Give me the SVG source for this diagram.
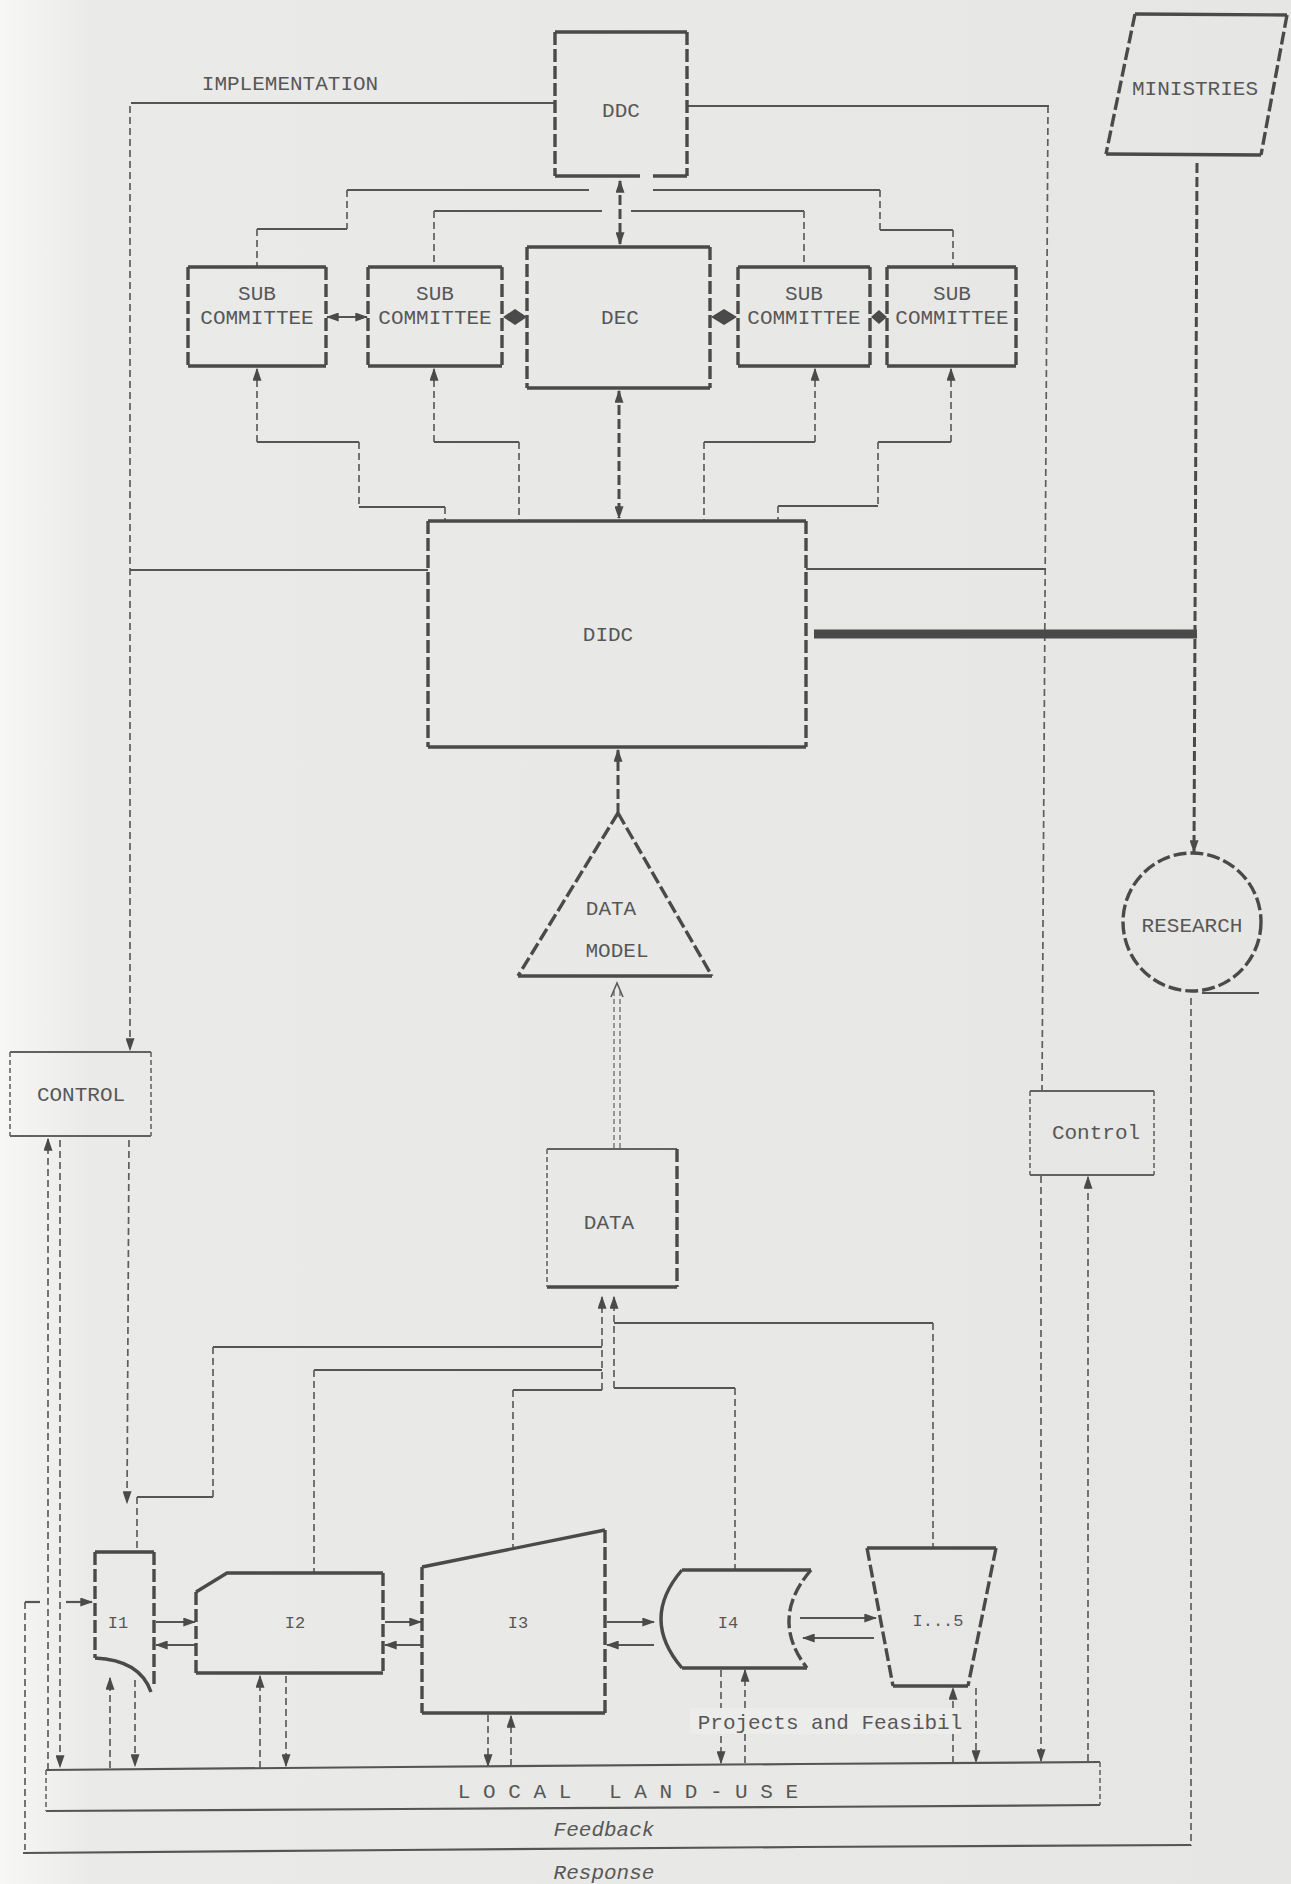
<svg xmlns="http://www.w3.org/2000/svg" width="1291" height="1884" viewBox="0 0 1291 1884">
<defs>
<linearGradient id="bg" x1="0" y1="0" x2="1" y2="0">
<stop offset="0" stop-color="#f7f7f6"/>
<stop offset="0.07" stop-color="#eaeae8"/>
<stop offset="1" stop-color="#e6e6e4"/>
</linearGradient>
<marker id="a" viewBox="0 0 10 10" refX="9" refY="5" markerWidth="13" markerHeight="9" markerUnits="userSpaceOnUse" orient="auto-start-reverse" preserveAspectRatio="none"><path d="M0,0 L10,5 L0,10 z" fill="#4a4a4a"/></marker>
<style>
.h{stroke:#555;stroke-width:2.2;fill:none}
.v{stroke:#5e5e5e;stroke-width:1.7;stroke-dasharray:7 4;fill:none}
.bh{stroke:#4a4a4a;stroke-width:3.4;fill:none}
.bv{stroke:#4a4a4a;stroke-width:3.4;stroke-dasharray:13 4;fill:none}
.th{stroke:#626262;stroke-width:1.9;fill:none}
.tv{stroke:#666;stroke-width:1.6;stroke-dasharray:5 3;fill:none}
.hv{stroke:#4a4a4a;stroke-width:3;stroke-dasharray:10 4;fill:none}
.t{font-family:"Liberation Mono","DejaVu Sans Mono",monospace;fill:#575757;font-size:21px;text-anchor:middle;white-space:pre}
.s{font-size:17px}
</style>
</defs>
<rect x="0" y="0" width="1291" height="1884" fill="url(#bg)"/>

<g id="connectors">
<line class="h" x1="131" y1="103" x2="555" y2="103"/>
<line class="v" x1="130" y1="106" x2="130" y2="1050" marker-end="url(#a)"/>
<line class="h" x1="130" y1="570" x2="428" y2="570"/>
<line class="h" x1="687" y1="106" x2="1049" y2="106"/>
<line class="v" x1="1048" y1="106" x2="1042" y2="1091"/>
<line class="h" x1="806" y1="569" x2="1046" y2="569"/>
<line x1="814" y1="634" x2="1197" y2="634" stroke="#4a4a4a" stroke-width="9"/>
<line class="hv" x1="1197" y1="163" x2="1194" y2="852" marker-end="url(#a)"/>
<line class="h" x1="1202" y1="993" x2="1259" y2="993"/>
<line class="v" x1="1191" y1="998" x2="1191" y2="1846"/>
<path class="h" d="M589,190 H347 M347,229 H257 M434,211 H602 M653,190 H880 M880,230 H953 M631,211 H804"/>
<path class="v" d="M347,190 V229 M257,229 V267 M434,211 V267 M880,190 V230 M953,230 V267 M804,211 V267"/>
<line class="hv" x1="620" y1="181" x2="620" y2="244" marker-start="url(#a)" marker-end="url(#a)"/>
<line class="h" x1="327" y1="317" x2="367" y2="317" marker-start="url(#a)" marker-end="url(#a)"/>
<path d="M503,317 L515,309 L527,317 L515,325 Z" fill="#4a4a4a"/>
<path d="M711,317 L724,309 L737,317 L724,325 Z" fill="#4a4a4a"/>
<path d="M871,317 L879,310 L887,317 L879,324 Z" fill="#4a4a4a"/>
<line class="v" x1="257" y1="442" x2="257" y2="369" marker-end="url(#a)"/>
<line class="v" x1="434" y1="442" x2="434" y2="369" marker-end="url(#a)"/>
<line class="v" x1="815" y1="442" x2="815" y2="369" marker-end="url(#a)"/>
<line class="v" x1="951" y1="442" x2="951" y2="369" marker-end="url(#a)"/>
<path class="h" d="M257,442 H359 M359,507 H445 M434,442 H519 M704,442 H815 M878,442 H951 M778,506 H878"/>
<path class="v" d="M359,442 V507 M445,507 V521 M519,442 V521 M704,442 V521 M878,442 V506 M778,506 V521"/>
<line class="hv" x1="619" y1="391" x2="619" y2="518" marker-start="url(#a)" marker-end="url(#a)"/>
<line class="hv" x1="618" y1="813" x2="618" y2="750" marker-end="url(#a)"/>
<path d="M614,1148 V990 M620,1148 V990" stroke="#6a6a6a" stroke-width="1.3" stroke-dasharray="5 3" fill="none"/>
<polyline points="611,997 617,983 623,997" fill="none" stroke="#5a5a5a" stroke-width="1.6"/>
<line class="v" x1="602" y1="1390" x2="602" y2="1297" marker-end="url(#a)"/>
<line class="v" x1="614" y1="1388" x2="614" y2="1297" marker-end="url(#a)"/>
<path class="h" d="M213,1347 H602 M137,1497 H213 M314,1370 H602 M513,1390 H602 M614,1323 H933 M614,1388 H735"/>
<path class="v" d="M213,1347 V1497 M137,1497 V1552 M314,1370 V1573 M513,1390 V1549 M933,1323 V1547 M735,1388 V1570"/>
<line class="v" x1="48" y1="1770" x2="48" y2="1139" marker-end="url(#a)"/>
<line class="v" x1="60" y1="1140" x2="60" y2="1767" marker-end="url(#a)"/>
<line class="v" x1="129" y1="1140" x2="127" y2="1503" marker-end="url(#a)"/>
<path class="v" d="M25,1602 V1850"/>
<line class="h" x1="25" y1="1602" x2="40" y2="1602"/>
<line class="h" x1="66" y1="1602" x2="92" y2="1602" marker-end="url(#a)"/>
<path d="M23,1853 L400,1850 L800,1847 L1191,1845" stroke="#555" stroke-width="2.2" fill="none"/>
<line class="h" x1="156" y1="1622" x2="195" y2="1622" marker-end="url(#a)"/>
<line class="h" x1="196" y1="1645" x2="156" y2="1645" marker-end="url(#a)"/>
<line class="h" x1="385" y1="1622" x2="421" y2="1622" marker-end="url(#a)"/>
<line class="h" x1="421" y1="1645" x2="385" y2="1645" marker-end="url(#a)"/>
<line class="h" x1="607" y1="1622" x2="654" y2="1622" marker-end="url(#a)"/>
<line class="h" x1="654" y1="1645" x2="607" y2="1645" marker-end="url(#a)"/>
<line class="h" x1="800" y1="1618" x2="876" y2="1618" marker-end="url(#a)"/>
<line class="h" x1="874" y1="1638" x2="803" y2="1638" marker-end="url(#a)"/>
<line class="v" x1="110" y1="1768" x2="110" y2="1678" marker-end="url(#a)"/>
<line class="v" x1="135" y1="1680" x2="135" y2="1766" marker-end="url(#a)"/>
<line class="v" x1="260" y1="1768" x2="260" y2="1676" marker-end="url(#a)"/>
<line class="v" x1="286" y1="1676" x2="286" y2="1766" marker-end="url(#a)"/>
<line class="v" x1="488" y1="1715" x2="488" y2="1766" marker-end="url(#a)"/>
<line class="v" x1="511" y1="1766" x2="511" y2="1716" marker-end="url(#a)"/>
<line class="v" x1="721" y1="1670" x2="721" y2="1763" marker-end="url(#a)"/>
<line class="v" x1="745" y1="1763" x2="745" y2="1670" marker-end="url(#a)"/>
<line class="v" x1="953" y1="1763" x2="953" y2="1688" marker-end="url(#a)"/>
<line class="v" x1="976" y1="1688" x2="976" y2="1762" marker-end="url(#a)"/>
<line class="v" x1="1041" y1="1176" x2="1041" y2="1761" marker-end="url(#a)"/>
<line class="v" x1="1088" y1="1761" x2="1088" y2="1177" marker-end="url(#a)"/>
</g>

<g id="ddc"><path class="bh" d="M555,32 H687 M555,176 H640 M653,176 H687"/><path class="bv" d="M555,32 V176 M687,32 V176"/><text class="t" x="621" y="117">DDC</text></g>
<g id="ministries"><path class="bh" d="M1135,14 L1287,15 M1106,154 L1261,155"/><path class="bv" d="M1135,14 L1106,154 M1287,15 L1261,155"/><text class="t" x="1195" y="95">MINISTRIES</text></g>
<text class="t" x="290" y="90">IMPLEMENTATION</text>
<g id="sub1"><path class="bh" d="M188,267 H326 M188,366 H326"/><path class="bv" d="M188,267 V366 M326,267 V366"/><text class="t" x="257" y="300">SUB</text><text class="t" x="257" y="324">COMMITTEE</text></g>
<g id="sub2"><path class="bh" d="M368,267 H502 M368,366 H502"/><path class="bv" d="M368,267 V366 M502,267 V366"/><text class="t" x="435" y="300">SUB</text><text class="t" x="435" y="324">COMMITTEE</text></g>
<g id="dec"><path class="bh" d="M527,247 H710 M527,388 H710"/><path class="bv" d="M527,247 V388 M710,247 V388"/><text class="t" x="620" y="324">DEC</text></g>
<g id="sub3"><path class="bh" d="M738,267 H870 M738,366 H870"/><path class="bv" d="M738,267 V366 M870,267 V366"/><text class="t" x="804" y="300">SUB</text><text class="t" x="804" y="324">COMMITTEE</text></g>
<g id="sub4"><path class="bh" d="M887,267 H1016 M887,366 H1016"/><path class="bv" d="M887,267 V366 M1016,267 V366"/><text class="t" x="952" y="300">SUB</text><text class="t" x="952" y="324">COMMITTEE</text></g>
<g id="didc"><path class="bh" d="M428,521 H806 M428,747 H806"/><path class="bv" d="M428,521 V747 M806,521 V747"/><text class="t" x="608" y="641" font-size="18">DIDC</text></g>
<g id="datamodel"><path class="bh" d="M518,976 H712"/><path class="bv" d="M618,813 L518,976 M618,813 L712,976"/><text class="t" x="611" y="915" font-size="20">DATA</text><text class="t" x="617" y="957" font-size="20">MODEL</text></g>
<g id="research"><circle cx="1192" cy="922" r="69" class="bv" stroke-dasharray="12 5"/><text class="t" x="1192" y="932">RESEARCH</text></g>
<g id="control"><path class="th" d="M10,1052 H151 M10,1136 H151"/><path class="tv" d="M10,1052 V1136 M151,1052 V1136"/><text class="t" x="81" y="1101">CONTROL</text></g>
<g id="control2"><path class="th" d="M1030,1091 H1154 M1030,1175 H1154"/><path class="tv" d="M1030,1091 V1175 M1154,1091 V1175"/><text class="t" x="1096" y="1139" font-size="16">Control</text></g>
<g id="data"><path class="th" d="M547,1149 H677"/><path class="bh" d="M547,1287 H677"/><path class="tv" d="M547,1149 V1287"/><path class="bv" d="M677,1149 V1287" stroke-dasharray="4 3"/><text class="t" x="609" y="1229" font-size="20">DATA</text></g>
<g id="i1"><path class="bh" d="M95,1552 H154 M95,1658 Q140,1660 151,1692"/><path class="bv" d="M95,1552 V1658 M154,1552 V1688"/><text class="t s" x="118" y="1628">I1</text></g>
<g id="i2"><path class="bh" d="M196,1592 L227,1573 H383 M196,1673 H383"/><path class="bv" d="M196,1592 V1673 M383,1573 V1673"/><text class="t s" x="295" y="1628">I2</text></g>
<g id="i3"><path class="bh" d="M422,1567 L605,1530 M422,1713 H605"/><path class="bv" d="M422,1567 V1713 M605,1530 V1713"/><text class="t s" x="518" y="1628">I3</text></g>
<g id="i4"><path class="bh" d="M682,1570 H811 M682,1668 H807 M682,1570 Q640,1619 682,1668"/><path class="bv" d="M811,1570 Q769,1619 807,1668"/><text class="t s" x="728" y="1628">I4</text></g>
<g id="i5"><path class="bh" d="M867,1548 H996 M893,1686 H968"/><path class="bv" d="M867,1548 L893,1686 M996,1548 L968,1686"/><text class="t s" x="938" y="1626">I...5</text></g>
<g id="localuse"><path d="M46,1770 L400,1767 L800,1764 L1100,1762" class="h"/><path d="M46,1811 L400,1809 L800,1807 L1100,1805" class="h"/><path class="tv" d="M46,1770 V1811 M1100,1762 V1805"/><text class="t" x="628" y="1798" font-size="22" xml:space="preserve">L O C A L   L A N D - U S E</text></g>
<rect x="690" y="1708" width="270" height="26" fill="#ececea"/>
<text class="t" x="830" y="1729" font-size="19">Projects and Feasibil</text>
<text class="t" x="604" y="1836" font-size="18" font-style="italic">Feedback</text>
<text class="t" x="604" y="1879" font-size="18" font-style="italic">Response</text>
</svg>
